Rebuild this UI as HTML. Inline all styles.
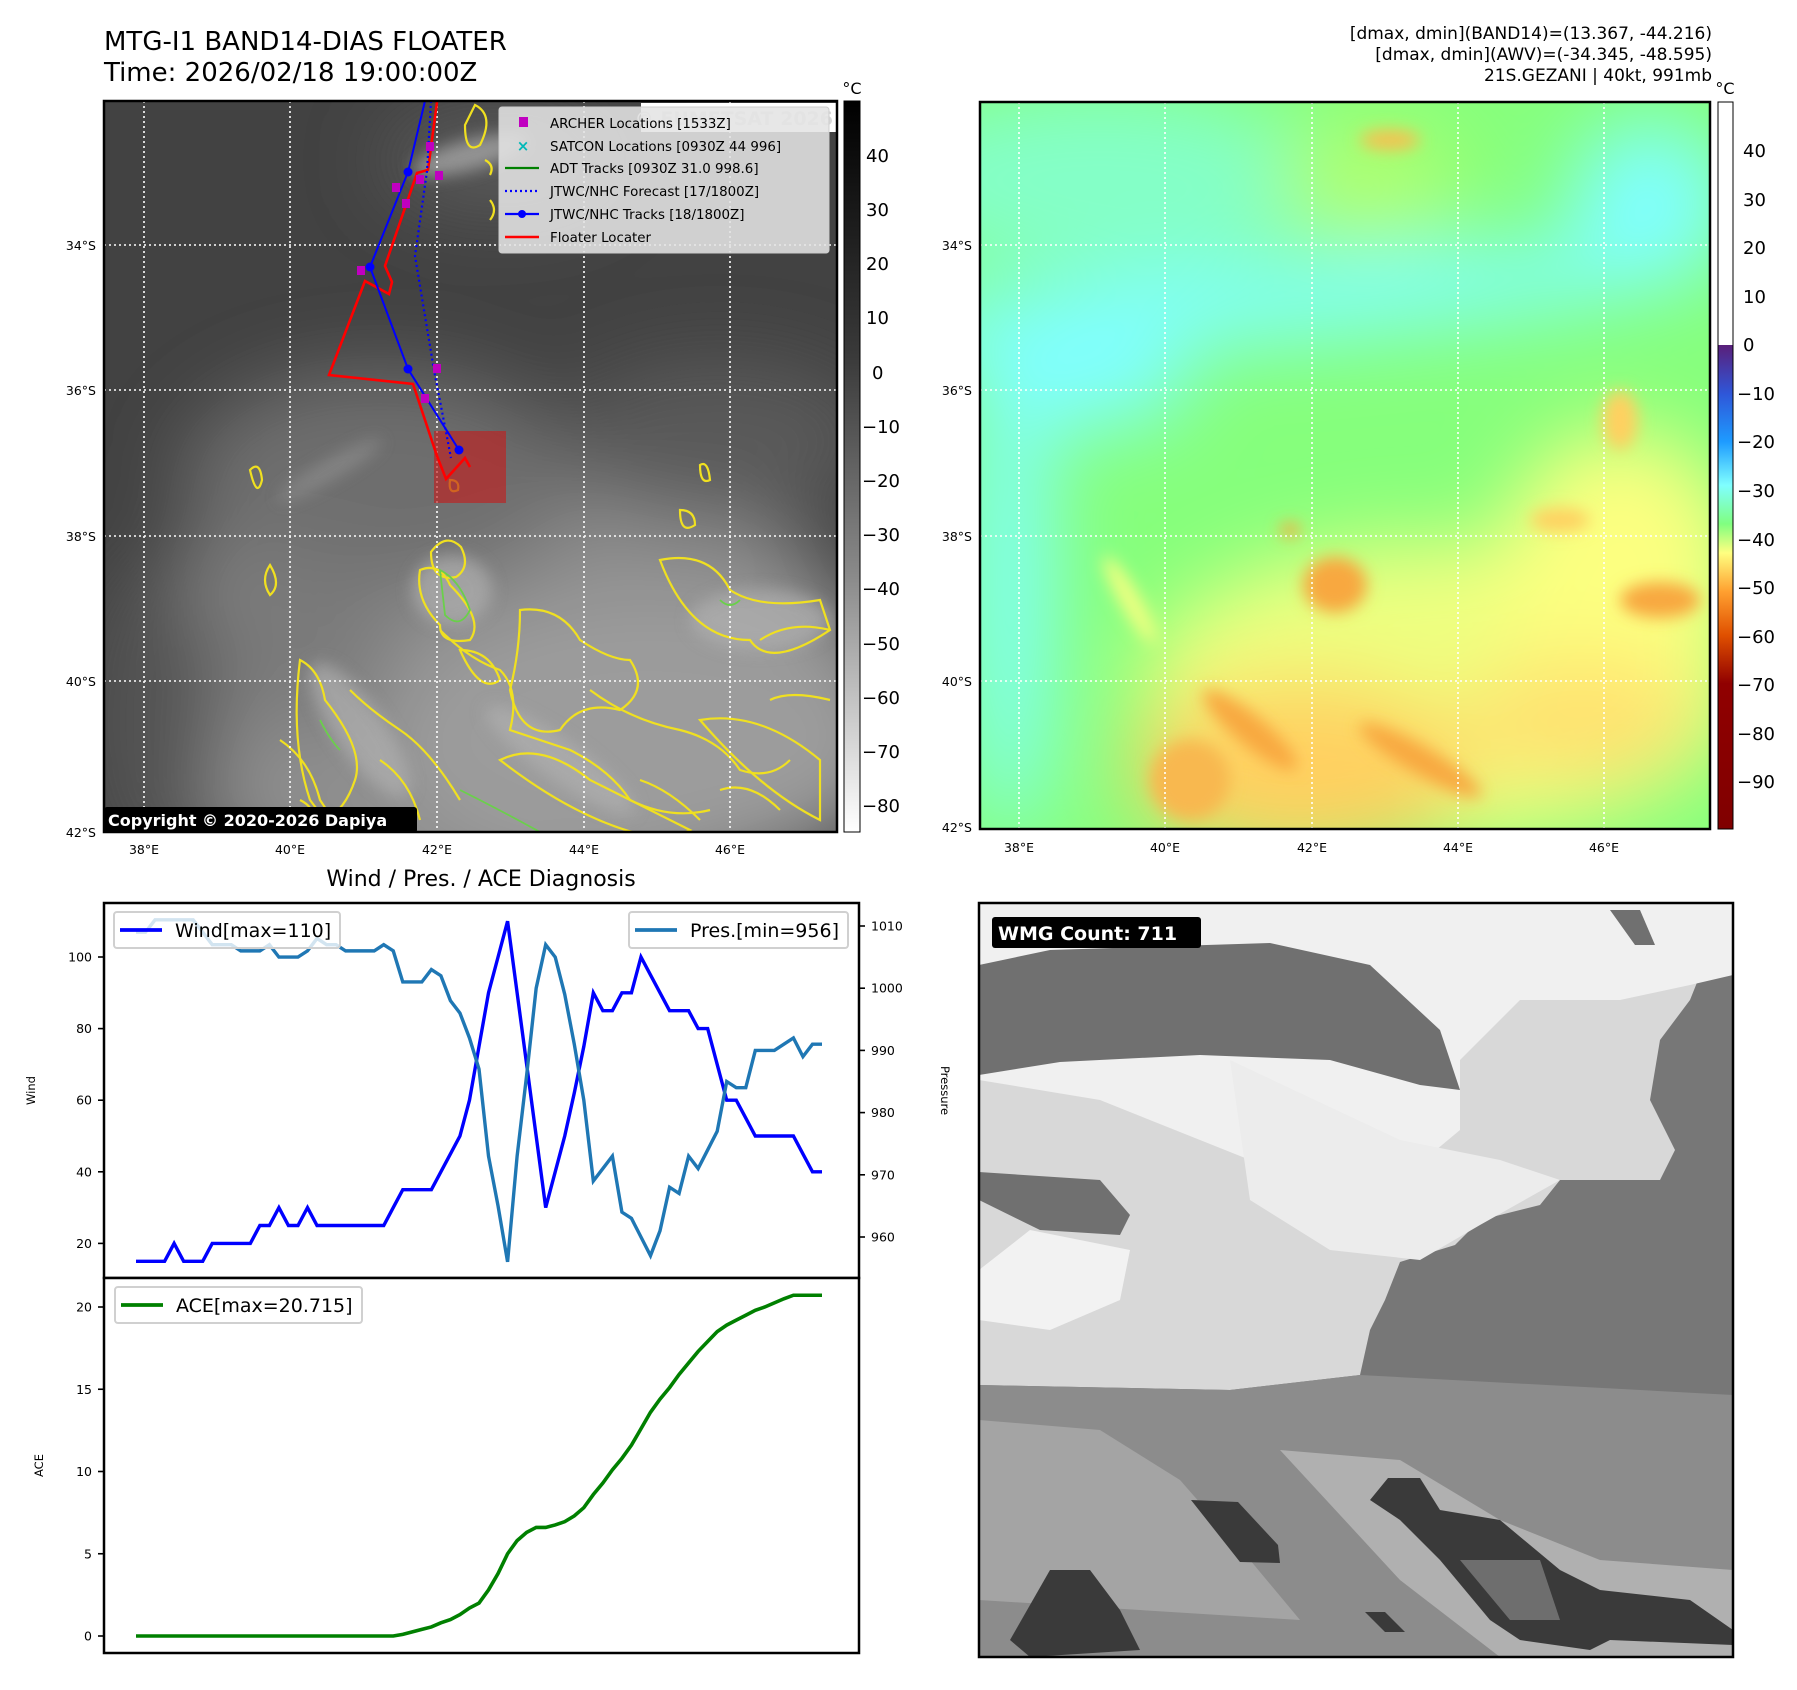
<!DOCTYPE html>
<html><head><meta charset="utf-8">
<style>
html,body{margin:0;padding:0;background:#fff;}
body{width:1797px;height:1690px;position:relative;overflow:hidden;font-family:"DejaVu Sans","Liberation Sans",sans-serif;}
svg{position:absolute;left:0;top:0;}
</style></head>
<body>
<svg id="fig" width="1797" height="1690" viewBox="0 0 1797 1690" xmlns="http://www.w3.org/2000/svg" font-family="DejaVu Sans, Liberation Sans, sans-serif">
<defs>
  <filter id="b8" x="-50%" y="-50%" width="200%" height="200%"><feGaussianBlur stdDeviation="8"/></filter>
  <filter id="b20" x="-50%" y="-50%" width="200%" height="200%"><feGaussianBlur stdDeviation="20"/></filter>
  <filter id="b40" x="-50%" y="-50%" width="200%" height="200%"><feGaussianBlur stdDeviation="40"/></filter>
  <clipPath id="clipL"><rect x="104" y="101" width="733" height="731"/></clipPath>
  <clipPath id="clipR"><rect x="980" y="102" width="730" height="727"/></clipPath>
  <clipPath id="clipW"><rect x="979" y="903" width="754" height="754"/></clipPath>
  <linearGradient id="cbGray" x1="0" y1="0" x2="0" y2="1">
    <stop offset="0" stop-color="#000"/><stop offset="0.35" stop-color="#3a3a3a"/><stop offset="0.65" stop-color="#8a8a8a"/><stop offset="1" stop-color="#fff"/>
  </linearGradient>
  <linearGradient id="cbColor" x1="0" y1="0" x2="0" y2="1">
    <stop offset="0" stop-color="#5a1f7a"/>
    <stop offset="0.10" stop-color="#2f56d8"/>
    <stop offset="0.20" stop-color="#1e9bff"/>
    <stop offset="0.29" stop-color="#80ffff"/>
    <stop offset="0.37" stop-color="#80ff80"/>
    <stop offset="0.43" stop-color="#ffff80"/>
    <stop offset="0.51" stop-color="#ffa030"/>
    <stop offset="0.60" stop-color="#e05000"/>
    <stop offset="0.70" stop-color="#900000"/>
    <stop offset="1" stop-color="#800000"/>
  </linearGradient>
</defs>

<!-- Titles -->
<text x="104" y="50" font-size="26" fill="#000">MTG-I1 BAND14-DIAS FLOATER</text>
<text x="104" y="81" font-size="26" fill="#000">Time: 2026/02/18 19:00:00Z</text>
<g font-size="17" text-anchor="end" fill="#000">
  <text x="1712" y="39">[dmax, dmin](BAND14)=(13.367, -44.216)</text>
  <text x="1712" y="60">[dmax, dmin](AWV)=(-34.345, -48.595)</text>
  <text x="1712" y="81">21S.GEZANI | 40kt, 991mb</text>
</g>

<!-- LEFT MAP -->
<g clip-path="url(#clipL)">
  <rect x="104" y="101" width="733" height="731" fill="#424242"/>
  <g filter="url(#b40)">
    <ellipse cx="500" cy="690" rx="380" ry="230" fill="#8e8e8e"/>
    <ellipse cx="650" cy="740" rx="260" ry="140" fill="#9c9c9c"/>
    <ellipse cx="380" cy="480" rx="200" ry="110" fill="#6e6e6e"/>
    <ellipse cx="720" cy="440" rx="160" ry="80" fill="#5a5a5a"/>
    <ellipse cx="150" cy="720" rx="70" ry="160" fill="#525252"/>
    <ellipse cx="500" cy="160" rx="120" ry="50" fill="#5c5c5c"/>
    <ellipse cx="300" cy="640" rx="90" ry="90" fill="#7a7a7a"/>
  </g>
  <g filter="url(#b8)" fill="#b0b0b0" opacity="0.7">
    <ellipse cx="360" cy="730" rx="80" ry="25" transform="rotate(55 360 730)"/>
    <ellipse cx="452" cy="590" rx="40" ry="35"/>
    <ellipse cx="560" cy="760" rx="90" ry="20" transform="rotate(35 560 760)"/>
    <ellipse cx="760" cy="620" rx="70" ry="30"/>
    <ellipse cx="470" cy="155" rx="60" ry="15" transform="rotate(-15 470 155)"/>
    <ellipse cx="330" cy="470" rx="60" ry="10" transform="rotate(-30 330 470)" opacity="0.5"/>
  </g>
  <!-- yellow contours -->
  <g fill="none" stroke="#f0e020" stroke-width="2.2">
    <path d="M431,552 q15,-20 30,-5 q10,20 -5,30 q-25,5 -25,-25z"/>
    <path d="M420,570 q20,-8 30,15 q35,35 20,55 q-30,5 -30,-15 q-25,-25 -20,-55z"/>
    <path d="M300,660 q20,10 25,40 q40,50 30,80 q-10,30 -30,40 l-15,-20 q-20,-60 -10,-140z"/>
    <path d="M280,740 q30,20 40,60 l20,30 M300,800 q20,10 10,30"/>
    <path d="M350,690 q20,20 50,40 q30,20 60,70 M380,760 q30,20 40,60"/>
    <path d="M440,630 q30,30 60,40 q20,20 10,60 q30,10 60,20 q40,20 60,50 q40,20 80,10"/>
    <path d="M520,610 q40,-5 60,30 q30,20 50,20 q20,30 -10,50 q-40,-10 -60,20 q-40,10 -50,-40 q10,-40 10,-80z"/>
    <path d="M660,560 q50,-10 70,30 q30,20 90,10 l10,30 q-60,40 -80,10 q-60,0 -90,-80z"/>
    <path d="M500,760 q40,-20 90,20 q60,30 100,50 l-20,10 q-80,-10 -170,-80z"/>
    <path d="M700,720 q60,-10 120,40 l0,60 q-60,-30 -120,-100z"/>
    <path d="M590,690 q40,30 90,40 q40,10 60,40 q30,10 50,-10"/>
    <path d="M640,780 q30,10 60,40 M720,790 q30,-10 60,20"/>
    <path d="M760,640 q30,-20 70,-10 M770,700 q20,-10 60,0"/>
    <path d="M460,650 q30,0 40,30 q-20,15 -40,-30z"/>
    <path d="M250,470 q10,-10 12,10 q-5,20 -12,-10z"/>
    <path d="M270,565 q12,20 0,30 q-10,-15 0,-30z"/>
    <path d="M450,480 q10,0 8,10 q-10,5 -8,-10z"/>
    <path d="M700,465 q8,-5 10,15 q-10,5 -10,-15z"/>
    <path d="M680,510 q15,0 15,15 q-15,10 -15,-15z"/>
    <path d="M475,105 q20,10 5,40 q-15,10 -15,-20z"/>
    <path d="M485,160 q10,5 5,15 M490,200 q8,10 0,20"/>
  </g>
  <g fill="none" stroke="#6ad04a" stroke-width="1.8">
    <path d="M440,570 q20,10 30,40 q-10,20 -25,5z"/>
    <path d="M320,720 q10,20 20,30"/>
    <path d="M720,600 q10,10 20,0"/>
    <path d="M460,790 q40,20 80,42"/>
  </g>
  <!-- gridlines -->
  <g stroke="#fff" stroke-width="1.6" stroke-dasharray="2,3">
    <line x1="144" y1="101" x2="144" y2="832"/><line x1="290" y1="101" x2="290" y2="832"/>
    <line x1="437" y1="101" x2="437" y2="832"/><line x1="584" y1="101" x2="584" y2="832"/>
    <line x1="730" y1="101" x2="730" y2="832"/>
    <line x1="104" y1="245" x2="837" y2="245"/><line x1="104" y1="390" x2="837" y2="390"/>
    <line x1="104" y1="536" x2="837" y2="536"/><line x1="104" y1="681" x2="837" y2="681"/>
  </g>
  <rect x="434" y="431" width="72" height="72" fill="#c02020" opacity="0.65"/>
  <polyline points="437,102 428,170 417,173 385,266 392,282 389,294 365,281 329,375 413,384 437,456 446,479 465,458 470,467" fill="none" stroke="#ff0000" stroke-width="2.6"/>
  <polyline points="431,101 427,171 415,256 434,370 451,458" fill="none" stroke="#0000ff" stroke-width="2.2" stroke-dasharray="2,3"/>
  <polyline points="425,101 408,172 370,267 408,369 459,450" fill="none" stroke="#0000ff" stroke-width="2"/>
  <g fill="#0000ff"><circle cx="408" cy="172" r="4.5"/><circle cx="370" cy="267" r="4.5"/><circle cx="408" cy="369" r="4.5"/><circle cx="459" cy="450" r="4.5"/></g>
  <g fill="#c000c0">
    <rect x="426" y="142" width="8" height="9"/><rect x="435" y="171" width="8" height="9"/>
    <rect x="416" y="175" width="8" height="9"/><rect x="392" y="183" width="8" height="9"/>
    <rect x="402" y="199" width="8" height="9"/><rect x="357" y="266" width="8" height="9"/>
    <rect x="433" y="364" width="8" height="9"/><rect x="421" y="394" width="8" height="9"/>
  </g>
  <rect x="641" y="103" width="195" height="29" fill="#fff"/>
  <text x="833" y="125" font-size="19" font-weight="bold" fill="#d8d8d8" text-anchor="end">© EUMETSAT 2026</text>
  <g>
    <rect x="499" y="107" width="330" height="146" rx="3" fill="#e4e4e4" fill-opacity="0.88" stroke="#cccccc"/>
    <rect x="519" y="117" width="9" height="10" fill="#c000c0"/>
    <text x="523" y="151" font-size="15" font-weight="bold" fill="#00b8b8" text-anchor="middle">×</text>
    <line x1="505" y1="168" x2="539" y2="168" stroke="#008000" stroke-width="2.2"/>
    <line x1="505" y1="191" x2="539" y2="191" stroke="#0000ff" stroke-width="2.2" stroke-dasharray="2,3"/>
    <line x1="505" y1="214" x2="539" y2="214" stroke="#0000ff" stroke-width="2.2"/><circle cx="522" cy="214" r="4" fill="#0000ff"/>
    <line x1="505" y1="237" x2="539" y2="237" stroke="#ff0000" stroke-width="2.6"/>
    <g font-size="13.4" fill="#000">
      <text x="550" y="128">ARCHER Locations [1533Z]</text>
      <text x="550" y="151">SATCON Locations [0930Z 44 996]</text>
      <text x="550" y="173">ADT Tracks [0930Z 31.0 998.6]</text>
      <text x="550" y="196">JTWC/NHC Forecast [17/1800Z]</text>
      <text x="550" y="219">JTWC/NHC Tracks [18/1800Z]</text>
      <text x="550" y="242">Floater Locater</text>
    </g>
  </g>
  <rect x="104" y="807" width="313" height="26" rx="3" fill="#000"/>
  <text x="108" y="826" font-size="16" font-weight="bold" fill="#fff">Copyright © 2020-2026 Dapiya</text>
</g>
<rect x="104" y="101" width="733" height="731" fill="none" stroke="#000" stroke-width="2.5"/>
<g font-size="12.5" fill="#000">
  <g text-anchor="end"><text x="96" y="250">34°S</text><text x="96" y="395">36°S</text><text x="96" y="541">38°S</text><text x="96" y="686">40°S</text><text x="96" y="837">42°S</text></g>
  <g text-anchor="middle"><text x="144" y="854">38°E</text><text x="290" y="854">40°E</text><text x="437" y="854">42°E</text><text x="584" y="854">44°E</text><text x="730" y="854">46°E</text></g>
</g>
<rect x="844" y="101" width="16" height="731" fill="url(#cbGray)" stroke="#000" stroke-width="1"/>
<text x="852" y="94" font-size="16" text-anchor="middle">°C</text>
<g font-size="18" fill="#000">
  <text x="866" y="162">40</text><text x="866" y="216">30</text><text x="866" y="270">20</text><text x="866" y="324">10</text><text x="872" y="379">0</text>
  <text x="862" y="433">−10</text><text x="862" y="487">−20</text><text x="862" y="541">−30</text><text x="862" y="595">−40</text><text x="862" y="650">−50</text><text x="862" y="704">−60</text><text x="862" y="758">−70</text><text x="862" y="812">−80</text>
</g>

<!-- RIGHT MAP -->
<g clip-path="url(#clipR)">
  <rect x="980" y="102" width="730" height="727" fill="#86ff7c"/>
  <g filter="url(#b40)">
    <ellipse cx="1100" cy="180" rx="220" ry="90" fill="#84ffc8"/>
    <ellipse cx="1280" cy="300" rx="440" ry="40" fill="#80ffff" transform="rotate(-5 1280 300)"/>
    <ellipse cx="1650" cy="200" rx="80" ry="80" fill="#80ffff"/>
    <ellipse cx="1010" cy="580" rx="40" ry="260" fill="#80ffff"/>
    <ellipse cx="1080" cy="380" rx="110" ry="50" fill="#80ffff"/>
    <ellipse cx="1440" cy="690" rx="300" ry="150" fill="#eeff80"/>
    <ellipse cx="1620" cy="570" rx="120" ry="140" fill="#fcff80"/>
    <ellipse cx="1300" cy="770" rx="170" ry="90" fill="#ffd060"/>
    <ellipse cx="1580" cy="720" rx="120" ry="60" fill="#ffe070"/>
    <ellipse cx="1370" cy="180" rx="90" ry="60" fill="#b0ff70"/>
  </g>
  <g filter="url(#b8)" fill="#f8a840">
    <ellipse cx="1335" cy="585" rx="32" ry="28"/>
    <ellipse cx="1290" cy="530" rx="10" ry="7"/>
    <ellipse cx="1250" cy="730" rx="60" ry="15" transform="rotate(40 1250 730)"/>
    <ellipse cx="1420" cy="760" rx="70" ry="14" transform="rotate(30 1420 760)"/>
    <ellipse cx="1660" cy="600" rx="40" ry="18"/>
    <ellipse cx="1390" cy="140" rx="30" ry="10" fill="#f8c050"/>
    <ellipse cx="1190" cy="780" rx="40" ry="40" fill="#f8b850"/>
    <ellipse cx="1620" cy="420" rx="18" ry="30" fill="#ffd060"/>
    <ellipse cx="1130" cy="600" rx="50" ry="10" transform="rotate(60 1130 600)" fill="#f0ff80"/>
    <ellipse cx="1560" cy="520" rx="30" ry="12" fill="#ffd060"/>
  </g>
  <g stroke="#fff" stroke-width="1.6" stroke-dasharray="2,3">
    <line x1="1019" y1="102" x2="1019" y2="829"/><line x1="1165" y1="102" x2="1165" y2="829"/>
    <line x1="1312" y1="102" x2="1312" y2="829"/><line x1="1458" y1="102" x2="1458" y2="829"/>
    <line x1="1604" y1="102" x2="1604" y2="829"/>
    <line x1="980" y1="245" x2="1710" y2="245"/><line x1="980" y1="390" x2="1710" y2="390"/>
    <line x1="980" y1="536" x2="1710" y2="536"/><line x1="980" y1="681" x2="1710" y2="681"/>
  </g>
</g>
<rect x="980" y="102" width="730" height="727" fill="none" stroke="#000" stroke-width="2.5"/>
<g font-size="12.5" fill="#000">
  <g text-anchor="end"><text x="972" y="250">34°S</text><text x="972" y="395">36°S</text><text x="972" y="541">38°S</text><text x="972" y="686">40°S</text><text x="972" y="832">42°S</text></g>
  <g text-anchor="middle"><text x="1019" y="852">38°E</text><text x="1165" y="852">40°E</text><text x="1312" y="852">42°E</text><text x="1458" y="852">44°E</text><text x="1604" y="852">46°E</text></g>
</g>
<rect x="1718" y="102" width="15" height="727" fill="#fff" stroke="#000" stroke-width="1"/>
<rect x="1718.5" y="345" width="14" height="483.5" fill="url(#cbColor)"/>
<text x="1725" y="94" font-size="16" text-anchor="middle">°C</text>
<g font-size="18" fill="#000">
  <text x="1743" y="157">40</text><text x="1743" y="206">30</text><text x="1743" y="254">20</text><text x="1743" y="303">10</text><text x="1743" y="351">0</text>
  <text x="1737" y="400">−10</text><text x="1737" y="448">−20</text><text x="1737" y="497">−30</text><text x="1737" y="546">−40</text><text x="1737" y="594">−50</text><text x="1737" y="643">−60</text><text x="1737" y="691">−70</text><text x="1737" y="740">−80</text><text x="1737" y="788">−90</text>
</g>

<!-- WMG panel -->
<g clip-path="url(#clipW)">
  <rect x="979" y="903" width="754" height="754" fill="#777"/>
  <polygon points="979,903 1733,903 1733,975 1700,975 1690,1000 1660,1040 1650,1100 1675,1150 1660,1180 1560,1180 1540,1205 1480,1220 1455,1245 1400,1262 1385,1300 1370,1330 1360,1375 1230,1390 979,1385" fill="#d8d8d8"/>
  <polygon points="979,903 1733,903 1733,975 1690,985 1620,1000 1520,1000 1460,1060 1460,1130 1400,1180 1300,1180 1200,1140 1100,1100 979,1080" fill="#f0f0f0"/>
  <polygon points="1230,1060 1400,1140 1500,1160 1560,1180 1480,1225 1420,1260 1330,1250 1250,1200" fill="#ececec"/>
  <polygon points="1030,1230 1130,1250 1120,1300 1050,1330 979,1320 979,1270" fill="#f2f2f2"/>
  <polygon points="979,965 1050,950 1270,943 1370,965 1440,1030 1460,1090 1420,1085 1330,1060 1200,1055 1060,1062 979,1075" fill="#707070"/>
  <polygon points="979,1172 1100,1180 1130,1215 1120,1235 1040,1230 979,1200" fill="#707070"/>
  <polygon points="1610,910 1640,910 1655,945 1635,945" fill="#707070"/>
  <polygon points="979,1385 1230,1390 1360,1375 1733,1395 1733,1657 979,1657" fill="#8c8c8c"/>
  <polygon points="979,1420 1100,1430 1180,1480 1250,1560 1300,1620 979,1600" fill="#a4a4a4"/>
  <polygon points="1280,1450 1400,1460 1500,1520 1600,1560 1733,1570 1733,1657 1500,1657 1400,1580" fill="#b0b0b0"/>
  <polygon points="1191,1500 1238,1502 1278,1545 1280,1563 1240,1562" fill="#3a3a3a"/>
  <polygon points="1388,1478 1420,1478 1440,1510 1500,1520 1560,1570 1600,1590 1690,1600 1733,1630 1733,1645 1610,1640 1590,1650 1520,1640 1490,1620 1440,1560 1400,1520 1370,1500" fill="#3a3a3a"/>
  <polygon points="1460,1560 1540,1560 1560,1620 1510,1620" fill="#6e6e6e"/>
  <polygon points="1050,1570 1090,1570 1120,1610 1140,1650 1030,1657 1010,1640" fill="#3a3a3a"/>
  <polygon points="1365,1612 1385,1612 1405,1632 1385,1632" fill="#3a3a3a"/>
</g>
<rect x="979" y="903" width="754" height="754" fill="none" stroke="#000" stroke-width="2.5"/>
<rect x="992" y="917" width="209" height="31" rx="3" fill="#000"/>
<text x="998" y="940" font-size="19" font-weight="bold" fill="#fff">WMG Count: 711</text>

<!-- CHART -->
<text x="481" y="886" font-size="22" text-anchor="middle" fill="#000">Wind / Pres. / ACE Diagnosis</text>
<g id="chart"></g>
</svg>

<script>
const windValues = [15,15,15,15,20,15,15,15,20,20,20,20,20,25,25,30,25,25,30,25,25,25,25,25,25,25,25,30,35,35,35,35,40,45,50,60,75,90,100,110,90,70,50,30,40,50,62,75,90,85,85,90,90,100,95,90,85,85,85,80,80,70,60,60,55,50,50,50,50,50,45,40,40];
const presValues = [1009,1009,1011,1011,1011,1011,1011,1009,1007,1007,1007,1006,1006,1006,1007,1005,1005,1005,1006,1008,1007,1007,1006,1006,1006,1006,1007,1006,1001,1001,1001,1003,1002,998,996,992,987,973,965,956,973,986,1000,1007,1005,999,991,982,969,971,973,964,963,960,957,961,968,967,973,971,974,977,985,984,984,990,990,990,991,992,989,991,991];
const aceValues = [0,0,0,0,0,0,0,0,0,0,0,0,0,0,0,0,0,0,0,0,0,0,0,0,0,0,0,0,0.1,0.25,0.4,0.55,0.8,1.0,1.3,1.7,2.0,2.8,3.8,5.0,5.8,6.3,6.6,6.6,6.75,6.95,7.3,7.8,8.6,9.3,10.1,10.8,11.6,12.6,13.6,14.4,15.1,15.9,16.6,17.3,17.9,18.5,18.9,19.2,19.5,19.8,20.0,20.25,20.5,20.715,20.715,20.715,20.715];
const windTicks = [20,40,60,80,100];
const presTicks = [960,970,980,990,1000,1010];
const aceTicks = [0,5,10,15,20];

const NS = 'http://www.w3.org/2000/svg';
const chart = document.getElementById('chart');
const L = 104, R = 859, T1 = 903, B1 = 1278, B2 = 1653;
const xS = i => 136 + i * (686 / (windValues.length - 1));
const yWind = v => 957 - (v - 100) * 3.58;
const yPres = p => 926 - (p - 1010) * 6.22;
const yAce = a => 1636 - a * 16.45;

function mk(tag, attrs, parent) {
  const e = document.createElementNS(NS, tag);
  for (const k in attrs) e.setAttribute(k, attrs[k]);
  (parent || chart).appendChild(e);
  return e;
}
function txt(x, y, s, size, anchor, parent) {
  const t = mk('text', {x: x, y: y, 'font-size': size, 'text-anchor': anchor || 'start', fill: '#000'}, parent);
  t.textContent = s;
  return t;
}

const upperAx = mk('rect', {x: L, y: T1, width: R - L, height: B1 - T1, fill: '#fff', stroke: '#000', 'stroke-width': 2.5});


const lowerAx = mk('rect', {x: L, y: B1, width: R - L, height: B2 - B1, fill: '#fff', stroke: '#000', 'stroke-width': 2.5});



windTicks.forEach(v => {
  const y = yWind(v);
  const tk = mk('line', {x1: L - 6, x2: L, y1: y, y2: y, stroke: '#000', 'stroke-width': 1.6});
  
  
  const lb = txt(L - 12, y + 4.5, String(v), 12.5, 'end');
  
  
});
presTicks.forEach(v => {
  const y = yPres(v);
  const tk = mk('line', {x1: R, x2: R + 6, y1: y, y2: y, stroke: '#000', 'stroke-width': 1.6});
  
  
  const lb = txt(R + 12, y + 4.5, String(v), 12.5, 'start');
  
  
});
aceTicks.forEach(v => {
  const y = yAce(v);
  const tk = mk('line', {x1: L - 6, x2: L, y1: y, y2: y, stroke: '#000', 'stroke-width': 1.6});
  
  
  const lb = txt(L - 12, y + 4.5, String(v), 12.5, 'end');
  
  
});

const wt = txt(0, 0, 'Wind', 11.5, 'middle');
wt.setAttribute('transform', 'translate(35,' + ((T1 + B1) / 2) + ') rotate(-90)');


const pt = txt(0, 0, 'Pressure', 11.5, 'middle');
pt.setAttribute('transform', 'translate(941,' + ((T1 + B1) / 2) + ') rotate(90)');


const at = txt(0, 0, 'ACE', 11.5, 'middle');
at.setAttribute('transform', 'translate(43,' + ((B1 + B2) / 2) + ') rotate(-90)');



const windLine = mk('polyline', {points: windValues.map((v, i) => xS(i) + ',' + yWind(v)).join(' '), fill: 'none', stroke: '#0000ff', 'stroke-width': 3.4});


const presLine = mk('polyline', {points: presValues.map((v, i) => xS(i) + ',' + yPres(v)).join(' '), fill: 'none', stroke: '#1f77b4', 'stroke-width': 3.4});


const aceLine = mk('polyline', {points: aceValues.map((v, i) => xS(i) + ',' + yAce(v)).join(' '), fill: 'none', stroke: '#008000', 'stroke-width': 3.6});



function legend(x, y, w, color, label, name) {
  const g = mk('g', {});
  
  
  mk('rect', {x: x, y: y, width: w, height: 36, rx: 3, fill: '#fff', 'fill-opacity': 0.8, stroke: '#d0d0d0', 'stroke-width': 2}, g);
  mk('line', {x1: x + 6, x2: x + 48, y1: y + 18, y2: y + 18, stroke: color, 'stroke-width': 3.8}, g);
  txt(x + 61, y + 25, label, 19, 'start', g);
}
legend(114, 912, 226, '#0000ff', 'Wind[max=110]', 'wind-legend');
legend(629, 912, 219, '#1f77b4', 'Pres.[min=956]', 'pressure-legend');
legend(115, 1287, 247, '#008000', 'ACE[max=20.715]', 'ace-legend');
</script>
</body></html>
